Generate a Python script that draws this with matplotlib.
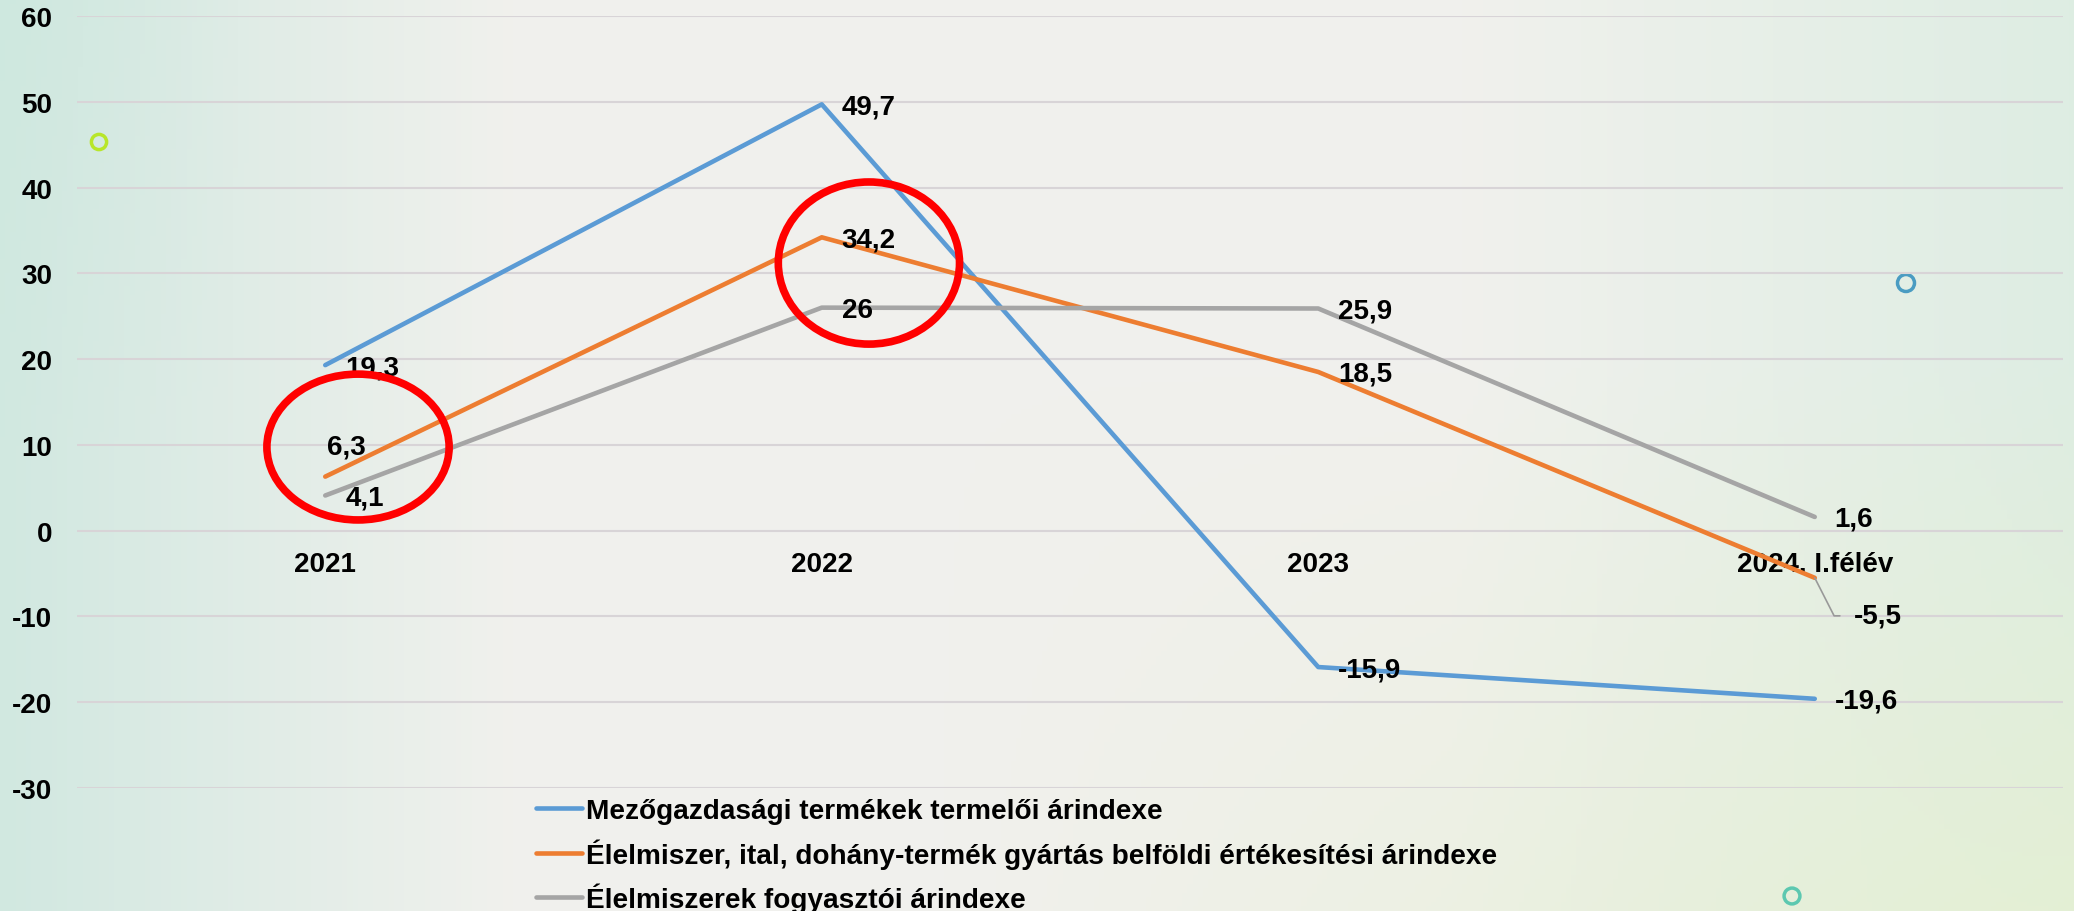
import matplotlib.pyplot as plt
import numpy as np
from matplotlib.patches import Ellipse

plt.rcParams['font.family'] = ['Liberation Sans', 'DejaVu Sans']
plt.rcParams['font.weight'] = 'bold'
plt.rcParams['axes.unicode_minus'] = False

periods = ['2021', '2022', '2023', '2024. I.félév']
producer = [19.3, 49.7, -15.9, -19.6]
food_industry = [6.3, 34.2, 18.5, -5.5]
consumer = [4.1, 26, 25.9, 1.6]
series_names = ['Mezőgazdasági termékek termelői árindexe',
                'Élelmiszer, ital, dohány-termék gyártás belföldi értékesítési árindexe',
                'Élelmiszerek fogyasztói árindexe']
colors = ['#5B9BD5', '#ED7D31', '#A5A5A5']

fig = plt.figure(figsize=(20.74, 9.12), dpi=100)

# slide background gradient
bg = fig.add_axes([0, 0, 1, 1], zorder=-10)
gx = np.linspace(0, 1, 400)
gy = np.linspace(0, 1, 200)[:, None]
left_c = np.array([0.82, 0.91, 0.88])
mid_c = np.array([0.945, 0.945, 0.93])
right_c = np.array([0.87, 0.93, 0.89])
wl = np.clip(1 - gx / 0.25, 0, 1)[None, :, None]
wr = np.clip((gx - 0.7) / 0.3, 0, 1)[None, :, None]
img = mid_c * (1 - wl - wr) + left_c * wl + right_c * wr
img = np.broadcast_to(img, (200, 400, 3)).copy()
wy = (np.clip((gx - 0.45) / 0.55, 0, 1)[None, :] * np.clip((gy - 0.4) / 0.6, 0, 1))[..., None]
img = img * (1 - 0.8 * wy) + np.array([0.90, 0.94, 0.82]) * 0.8 * wy
wtl = (np.clip(1 - gx / 0.12, 0, 1)[None, :] * np.clip(1 - gy / 0.5, 0, 1))[..., None]
img = img * (1 - 0.5 * wtl) + np.array([0.80, 0.91, 0.87]) * 0.5 * wtl
bg.imshow(img, extent=[0, 1, 0, 1], aspect='auto', origin='upper')
bg.scatter([99 / 2074, 1906 / 2074, 1792 / 2074], [1 - 143 / 912, 1 - 284 / 912, 1 - 897 / 912],
           s=[120, 150, 130], facecolors='none', edgecolors=['#b8e62a', '#4a9cc2', '#5cc8b0'], linewidths=2.5)
bg.set_xlim(0, 1)
bg.set_ylim(0, 1)
bg.axis('off')

ax = fig.add_axes([77 / 2074, 1 - 789 / 912, 1986 / 2074, 772 / 912])
ax.patch.set_alpha(0)

lines = []
for vals, name, c in zip([producer, food_industry, consumer], series_names, colors):
    ln, = ax.plot(range(len(periods)), vals, color=c, lw=3.3, solid_capstyle='round', label=name, zorder=3)
    lines.append(ln)

def fmt(v):
    return f"{v:g}".replace('.', ',')

# data labels (mostly to the right of the point)
for vals in [producer, food_industry, consumer]:
    for i, v in enumerate(vals):
        if v == 6.3:
            ax.annotate(fmt(v), (i, v), xytext=(2, 30), textcoords='offset pixels',
                        ha='left', va='center', fontsize=20, fontweight='bold', zorder=4)
        elif v == -5.5:
            ax.annotate(fmt(v), (i, v), xytext=(39, -38), textcoords='offset pixels',
                        ha='left', va='center', fontsize=20, fontweight='bold', zorder=4,
                        arrowprops=dict(arrowstyle='-', color='#999999', lw=1.2,
                                        connectionstyle='angle,angleA=0,angleB=-63,rad=0',
                                        relpos=(0, 0.5), shrinkA=8, shrinkB=0))
        else:
            ax.annotate(fmt(v), (i, v), xytext=(20, -2), textcoords='offset pixels',
                        ha='left', va='center', fontsize=20, fontweight='bold', zorder=4)

# red highlight circles
ax.add_patch(Ellipse((0.066, 9.75), 0.367, 17.0, fill=False, ec='#ff0000', lw=5.5, zorder=6))
ax.add_patch(Ellipse((1.095, 31.2), 0.365, 18.9, fill=False, ec='#ff0000', lw=5.5, zorder=6))

ax.set_xlim(-0.5, 3.5)
ax.set_ylim(-30, 60)
ax.set_yticks(range(-30, 61, 10))
ax.set_xticks(range(len(periods)), periods)
ax.spines['bottom'].set_position(('data', 0))
for s in ax.spines.values():
    s.set_visible(False)
ax.tick_params(axis='x', length=0, pad=15, labelsize=20)
ax.tick_params(axis='y', length=0, pad=18, labelsize=20)
ax.yaxis.grid(True, color='#d8d4d7', lw=1.5, zorder=0)
ax.set_axisbelow(True)

fig.legend(handles=lines, loc='upper left', bbox_to_anchor=(536 / 2074, 1 - 799 / 912),
           frameon=False, fontsize=20.2, handlelength=1.65, handletextpad=0.15,
           labelspacing=0.5, borderpad=0, borderaxespad=0)

fig.savefig('out.png', dpi=100)
